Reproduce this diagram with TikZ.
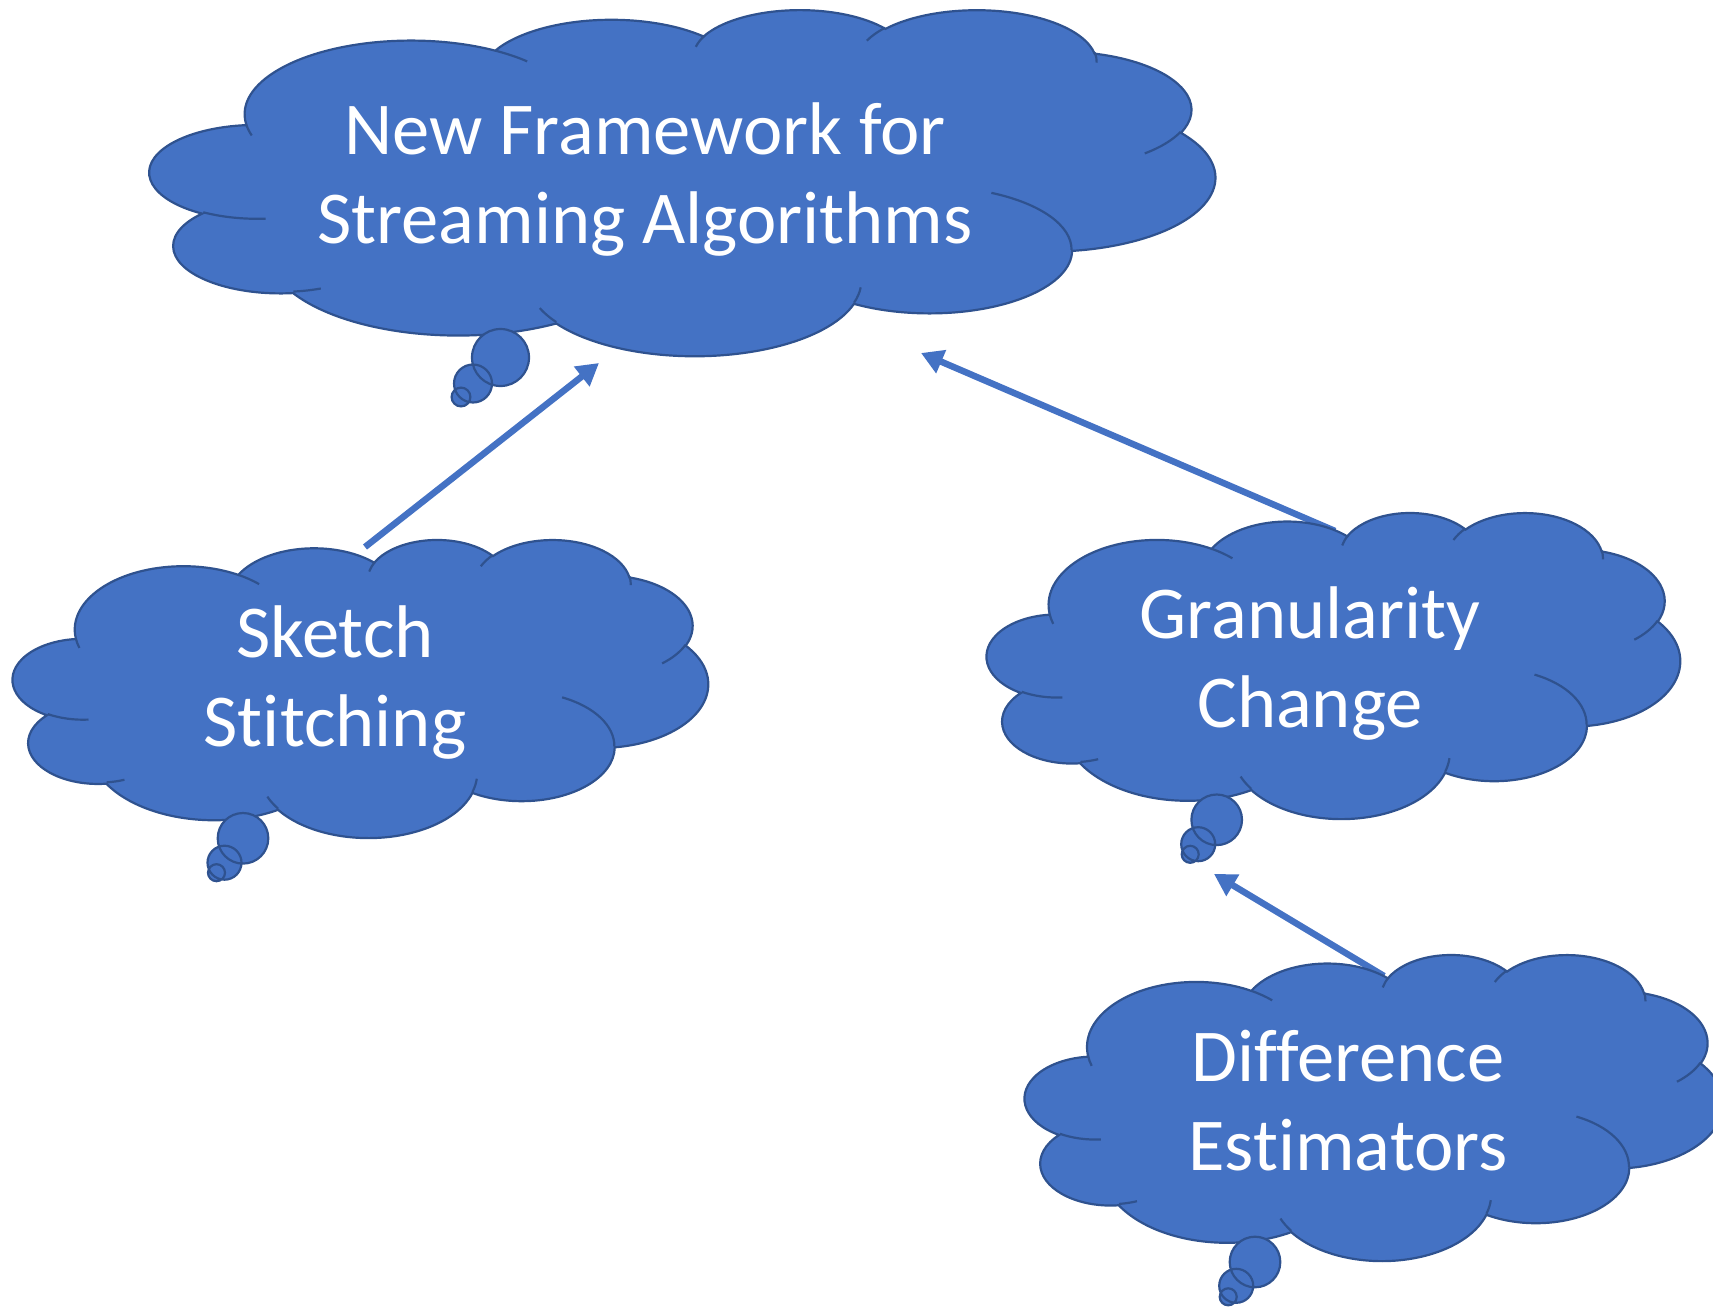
\documentclass[tikz,border=0pt]{standalone}
\usepackage{fontspec}
\setmainfont{Carlito}[Ligatures=NoCommon]
\usetikzlibrary{arrows.meta}
\definecolor{cfill}{HTML}{4472C4}
\definecolor{cline}{HTML}{2F528F}

% one elliptical arc given OOXML-style (visual start angle, sweep)
\newcommand\cldarc[4]{%
  \pgfmathsetmacro\cldta{atan2((#1)*sin(#3),(#2)*cos(#3))}%
  \pgfmathsetmacro\cldtb{atan2((#1)*sin((#3)+(#4)),(#2)*cos((#3)+(#4)))}%
  \pgfmathsetmacro\cldte{\cldta+mod(\cldtb-\cldta+720,360)}%
  \pgfpatharc{\cldta}{\cldte}{#1pt and #2pt}%
}
\newcommand\cloudbody{%
  \pgfpathmoveto{\pgfqpoint{3.9pt}{14.37pt}}%
  \cldarc{6.753}{9.19}{-190.4875}{123.7805}%
  \cldarc{5.333}{7.267}{-144.1024}{89.9452}%
  \cldarc{4.365}{5.945}{-145.8079}{99.7230}%
  \cldarc{4.857}{6.595}{-130.9861}{117.2417}%
  \cldarc{5.333}{7.273}{-78.7089}{109.0269}%
  \cldarc{6.775}{9.22}{-46.2673}{130.2690}%
  \cldarc{5.785}{7.867}{0.6250}{114.0333}%
  \cldarc{6.752}{9.215}{22.4516}{115.1726}%
  \cldarc{7.72}{10.543}{66.2426}{75.7110}%
  \cldarc{4.36}{5.918}{-274.9421}{146.7356}%
  \cldarc{4.345}{5.945}{-246.8285}{152.5189}%
  \pgfpathclose
}
\newcommand\cloudinner{%
  \pgfpathmoveto{\pgfqpoint{4.693pt}{26.177pt}}\cldarc{4.345}{5.945}{86.742}{26.4295}%
  \pgfpathmoveto{\pgfqpoint{6.928pt}{34.899pt}}\cldarc{4.36}{5.918}{73.6105}{11.4475}%
  \pgfpathmoveto{\pgfqpoint{16.478pt}{39.09pt}}\cldarc{6.752}{9.215}{137.6242}{14.0811}%
  \pgfpathmoveto{\pgfqpoint{28.827pt}{34.751pt}}\cldarc{6.752}{9.215}{6.4533}{15.9984}%
  \pgfpathmoveto{\pgfqpoint{34.129pt}{22.954pt}}\cldarc{5.785}{7.867}{-70.2924}{70.9174}%
  \pgfpathmoveto{\pgfqpoint{41.798pt}{15.354pt}}\cldarc{5.333}{7.273}{30.3180}{27.7515}%
  \pgfpathmoveto{\pgfqpoint{38.324pt}{5.426pt}}\cldarc{4.857}{6.595}{-13.7443}{14.8589}%
  \pgfpathmoveto{\pgfqpoint{29.078pt}{3.952pt}}\cldarc{4.857}{6.595}{-149.1815}{18.1954}%
  \pgfpathmoveto{\pgfqpoint{22.141pt}{4.72pt}}\cldarc{4.365}{5.945}{-163.4943}{17.6864}%
  \pgfpathmoveto{\pgfqpoint{14pt}{5.192pt}}\cldarc{6.753}{9.19}{-66.7070}{12.3194}%
  \pgfpathmoveto{\pgfqpoint{4.127pt}{15.789pt}}\cldarc{6.753}{9.19}{157.6544}{11.8582}%
}
% cloud in box: left, top, width, height (px)
\newcommand\drawcloud[4]{%
  \begin{scope}[shift={(#1,#2)},xscale=#3/86.4,yscale=-#4/86.4]
    \pgfsetfillcolor{cfill}\pgfsetstrokecolor{cline}\pgfsetlinewidth{1.1pt}%
    \cloudbody\pgfusepath{fill,stroke}%
    \cloudinner\pgfusepath{stroke}%
  \end{scope}}
% three thought bubbles: x1,y1,r1,x2,y2,r2,x3,y3,r3
\newcommand\drawbubbles[9]{%
  \fill[bubfill] (#1,#2) circle[radius=#3] (#4,#5) circle[radius=#6] (#7,#8) circle[radius=#9];
  \draw[bubline] (#1,#2) circle[radius=#3] (#4,#5) circle[radius=#6] (#7,#8) circle[radius=#9];}

\tikzset{
  bubfill/.style={fill=cfill},
  bubline/.style={draw=cline, line width=1.1pt},
  lbl/.style={text=white, align=center, inner sep=0pt, font=\fontsize{37.3}{44.5}\selectfont},
  arr/.style={draw=cfill, line width=3.25pt, -{Triangle[length=11pt,width=12pt]}}
}

\begin{document}
\begin{tikzpicture}[x=0.5pt,y=-0.5pt]
\useasboundingbox (0,0) rectangle (1713,1307);

% arrow end points
\coordinate (ss-out) at (365,547);
\coordinate (top-in1) at (599,363);
\coordinate (gc-out) at (1335,531);
\coordinate (top-in2) at (921,353);
\coordinate (de-out) at (1384,976);
\coordinate (gc-in) at (1214,874);

\draw[arr] (ss-out) -- (top-in1);
\draw[arr] (gc-out) -- (top-in2);
\draw[arr] (de-out) -- (gc-in);

% top cloud
\drawcloud{150}{9}{1065}{346}
\drawbubbles{500.5}{357.5}{28.5}{473}{383.5}{19}{461}{397}{9.4}
\node[lbl] (top) at (645,180) {New Framework for\\Streaming Algorithms};

% sketch stitching
\drawcloud{13}{539}{695}{298}
\drawbubbles{243}{838.3}{25.3}{224.5}{862.7}{17}{216.5}{872.7}{8.5}
\node[lbl] (ss) at (335,683) {Sketch\\Stitching};

% granularity change
\drawcloud{987}{512}{693}{306}
\drawbubbles{1216.7}{819.8}{25.3}{1198.2}{844.2}{17}{1190.2}{854.3}{8.5}
\node[lbl] (gc) at (1310,664) {Granularity\\Change};

% difference estimators
\drawcloud{1025}{954}{698}{306}
\drawbubbles{1255}{1262}{25.3}{1236.2}{1285.8}{17}{1228.2}{1296.8}{8.5}
\node[lbl] (de) at (1348,1101) {Difference\\Estimators};
\end{tikzpicture}
\end{document}
